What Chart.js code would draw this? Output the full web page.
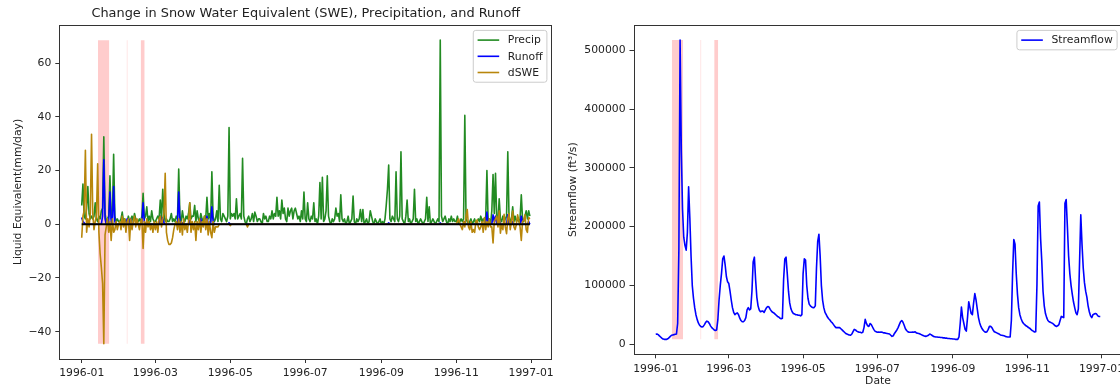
<!DOCTYPE html>
<html>
<head>
<meta charset="utf-8">
<script src="https://cdn.jsdelivr.net/npm/chart.js@4.4.0/dist/chart.umd.min.js"></script>
<style>
html, body { margin: 0; padding: 0; overflow: hidden; background: #fff; width: 1120px; height: 387px; }
#left { position: absolute; left: 0; top: 0; width: 560px; height: 387px; }
#right { position: absolute; left: 560px; top: 0; width: 580px; height: 387px; }
</style>
</head>
<body>
<div id="left"><canvas id="swe"></canvas></div>
<div id="right"><canvas id="flow"></canvas></div>
<script>
// day of 1996 (0 = 1996-01-01)
var days = Array.from({ length: 366 }, function (_, i) { return i; });

var xTickDays = [0, 60, 121, 182, 244, 305, 366];
var xTickLabels = ["1996-01", "1996-03", "1996-05", "1996-07", "1996-09", "1996-11", "1997-01"];

var sweTicks = [-40, -20, 0, 20, 40, 60];
var sweTickLabels = ["\u221240", "\u221220", "0", "20", "40", "60"];
var flowTicks = [0, 100000, 200000, 300000, 400000, 500000];
var flowTickLabels = ["0", "100000", "200000", "300000", "400000", "500000"];

// shaded periods (day of 1996)
var spanStart = [13.2, 36.5, 48.0];
var spanEnd = [22.5, 37.5, 51.3];

// mm/day
var precip = [
  7,15,3,2,6,14,4,2,3,2,3,8,2,1,3,2,5,6,32.5,4,1,2,3,18,2,3,26,3,1,2,1,
  1,2,4.5,1,2,1,1,3,1,2,3,1,4,2,1,1,2,1,3,11.5,2,3,6.5,1,3,1,5,2,1,
  1,2,3,2,9,2,13,4,1,2,1,1,2,4,1,2,1,3,2,20.5,3,1,5,2,1,3,2,4,8,2,3,
  3,7,1,5,2,1,4,2,1,3,2,10,2,4,1,19.5,3,1,2,5,1,14.5,2,1,4,3,2,1,3,36,
  2,4,3,4,2,9.5,2,3,4,2,24.5,3,1,0,2,3,1,2,4,1,4.5,3,1,2,2,1,0,4,2,3,1,
  1,3,2,5,2,4,3,10,3,5,2,9,4,6,2,1,6,3,5,6,2,5,6,4,2,3,1,5,2,12,
  2,1,8,2,1,3,2,8,1,2,0,3,15.5,2,17.5,1,2,5,18,3,1,0,2,1,2,6,3,4,1,11,2,
  1,2,0,1,3,0,1,2,10.5,1,0,2,1,2,5.5,1,5.5,0,1,2,0,1,5,3,1,0,2,1,0,1,2,
  0,1,0,2,7,13,22,2,1,3,2,1,19.5,2,1,3,27,2,1,0,3,9,1,2,0,1,2,13,1,2,
  0,1,2,1,0,1,2,10,1,6.5,0,1,2,1,0,1,2,1,68.5,3,1,2,3,1,0,2,1,3,1,2,1,
  1,3,0,1,2,1,2,40.5,2,1,0,1,2,0,1,2,0,1,2,1,3,1,2,1,2,20,1,2,0,5,
  18.5,4,19,2,1,9.5,2,1,3,1,2,3,27,3,1,2,6.5,1,3,1,2,1,2,11,2,1,3,5,2,5,3
];

var runoff = [
  2.5,1,0.5,0,0,0,0,0,0,0,0,0,0,0,0,0,0,3,24,2,0,0,1,12,1,0,14,1,0,0,0,
  0,0,0,0,0,0,2,1.5,0,2,0,0,0,0,0,0,0,0,0.5,8,1,0,0.5,0,0,0,0,0,0,
  0,0,0,0,3,0,2.5,0.5,0,0,0,0,0,0,0,0,0,0,0.5,12,1,0,0.5,0,0,0,0,0,1.5,0,0,
  0,0,0,0,0,0,2,0,0,0,0,3,0,0,0,6.5,1,0,0,0,0,0,0,0,0,0,0,0,0,0.5,
  0,0,0,0,0,0,0,0,0,0,0,0,0,0,0,0,0,0,0,0,0,0,0,0,0,0,0,0,0,0,0,
  0,0,0,0,0,0,0,0,0,0,0,0,0,0,0,0,0,0,0,0,0,0,0,0,0,0,0,0,0,0,
  0,0,0,0,0,0,0,0,0,0,0,0,0,0,0,0,0,0,0,0,0,0,0,0,0,0,0,0,0,0,0,
  0,0,0,0,0,0,0,0,0,0,0,0,0,0,0,0,0,0,0,0,0,0,0,0,0,0,0,0,0,0,0,
  0,0,0,0,0,0,0.5,0,0,0,0,0,0,0,0,0,0,0,0,0,0,0,0,0,0,0,0,0,0,0,
  0,0,0,0,0,0,0,0,0,0,0,0,0,0,0,0,0,0,0.5,0,0,0,0,0,0,0,0,0,0,0,0,
  0,0,0,0,0,0,0,1,0,0,0,0,0,0,0,0,0,0,0,0,0,0,0,0,0,4.5,0,0,0,0,
  3.5,1,3,0,0,2,0,0,0,0,0,0,3.5,0,0,0,1,0,0,0,0,0,0,3,0,0,0,0,0,1,0
];

var dswe = [
  -5,3,5,27.5,-3,2,-1,4,33.5,4,-2,1,3,22.5,-3,-11,-16,-22,-44.5,-4,-1,2,-3,1,-6,2,-3,-2,1,-2,0,
  1,-2,3,-1,2,-3,1,2,-6,2,-2,1,3,-1,2,0,-2,1,2,-9,1,-3,2,-1,1,-2,0,-3,1,
  -2,1,-3,2,3,-1,2,4,19,-3,-6,-7.5,-7.5,-7,-5,-2,0,1,-2,2,-3,1,-4,2,-2,0,-3,1,8,-3,1,
  -2,1,-6,1,-2,2,-3,1,-1,3,-2,2,-4,1,-3,-5,1,-3,-1,-1,-1,0,0,0,0,0,0,0,0,0,
  -0.5,0,0,0,0,0,0,0,0,0,0,0,0,0,-1,0,0,0,0,0,0,0,0,0,0,0,0,0,0,0,0,
  0,0,0,0,0,0,0,0,0,0,0,0,0,0,0,0,0,0,0,0,0,0,0,0,0,0,0,0,0,0,
  0,0,0,0,0,0,0,0,0,0,0,0,0,0,0,0,0,0,0,0,0,0,0,0,0,0,0,0,0,0,0,
  0,0,0,0,0,0,0,0,0,0,0,0,0,0,0,0,0,0,0,0,0,0,0,0,0,0,0,0,0,0,0,
  0,0,0,0,0,0,0,0,0,0,0,0,0,0,0,0,0,0,0,0,0,0,0,0,0,0,0,0,0,0,
  0,0,0,0,0,0,0,0,0,0,0,0,0,0,0,0,0,0,0,0,0,0,0,0,0,0,0,0,0,0,0,
  0,1,2,0,-1,-2,1,-1,3,5.5,-1,-2,1,-3,-2,-3,1,1.6,-1,-2,-1,1,-3,2.5,-2,1,-1,2,-1,-1,
  -7,1,2,3,-1,5,-3.3,0,-2,3.7,-1,-3.5,2,4,-2,1,4.9,-1,-2,0,3.5,1.5,-1,-6,1,1.5,3.5,-2,-3,2.5,2
];

// ft3/s
var streamflow = [
  16500,17000,16000,14000,12000,10000,8500,8000,8000,8000,9000,11000,13000,15000,15500,16000,16500,17000,35000,160000,518000,330000,230000,182000,168000,160000,190000,268000,215000,150000,100000,
  78000,62000,50000,42000,36000,32000,30000,29000,30000,33000,37000,39000,38000,35000,31000,28000,26000,24000,23000,24000,41000,75000,100000,120000,145000,150000,135000,115000,106000,
  103000,90000,75000,62000,54000,50000,52000,53000,50000,44000,40000,38000,38000,40000,45000,58000,62000,58000,60000,90000,140000,148000,110000,80000,65000,58000,55000,56000,56000,54000,58000,
  62000,64000,63000,59000,56000,54000,53000,51000,49000,47000,46000,44000,43000,44000,110000,145000,148000,120000,90000,70000,60000,55000,52000,51000,50000,50000,49000,49000,48000,50000,
  120000,145000,143000,100000,78000,68000,65000,63000,62000,62000,65000,130000,175000,187000,150000,100000,75000,62000,54000,50000,46000,43000,41000,38000,36000,33000,30000,28000,28000,28000,28000,
  26000,24000,22000,20000,18000,17000,16000,15500,15000,17000,21000,25000,24000,22000,21000,20000,20000,19000,20000,28000,42000,35000,31000,30000,35000,33000,29000,25000,22000,21000,
  20000,20500,20000,20500,20000,19000,19000,18500,18000,17500,17000,15000,13000,14000,18000,21000,24000,28000,33000,38000,40000,37000,32000,26000,23000,21000,20000,20000,20000,20500,20000,
  21000,19000,18500,18000,17000,16000,15000,14000,13500,13000,14000,15000,17000,16000,14500,13000,12500,12000,12000,11500,11500,11000,11000,10500,10500,10000,10000,9500,9500,9000,9000,
  8500,8500,8000,8000,8000,12000,35000,63000,45000,35000,25000,22000,45000,72000,62000,52000,50000,70000,86000,75000,60000,45000,36000,30000,26000,23000,21000,20000,21000,25000,
  30000,30000,28000,24000,21000,20000,19000,18000,17000,15500,15000,14500,14000,13000,12500,12000,12000,12000,40000,120000,178000,170000,120000,85000,62000,50000,43000,38000,35000,33000,31000,
  30000,28000,27000,25000,23000,22000,20500,21000,100000,235000,242000,180000,140000,90000,65000,52000,45000,40000,38000,37000,36000,35000,33000,31000,30000,31000,33000,40000,47000,46000,
  45000,240000,246000,200000,150000,120000,100000,85000,72000,62000,53000,50000,60000,140000,220000,170000,130000,105000,90000,80000,65000,55000,48000,45000,50000,51000,52000,51000,48000,47000,47000
];

var FONT = '"DejaVu Sans"';
var FS = 10.8;
var TXT = '#222';
var spanColors = ['rgba(255,0,0,0.2)', 'rgba(255,0,0,0.12)', 'rgba(255,0,0,0.2)'];

Chart.defaults.font.family = FONT;
Chart.defaults.font.size = FS;
Chart.defaults.color = TXT;
Chart.defaults.elements.point.radius = 0;
Chart.defaults.elements.line.tension = 0;
Chart.defaults.elements.line.borderJoinStyle = 'round';

var first = days[0], last = days[days.length - 1];
var xMin = first - 0.05 * (last - first), xMax = last + 0.05 * (last - first);

// axes box like matplotlib
var frame = {
  id: 'frame',
  afterDatasetsDraw: function (chart) {
    var a = chart.chartArea, ctx = chart.ctx;
    ctx.save();
    ctx.strokeStyle = '#333';
    ctx.lineWidth = 1;
    ctx.strokeRect(Math.round(a.left) + 0.5, Math.round(a.top) + 0.5, Math.round(a.right - a.left) - 1, Math.round(a.bottom - a.top));
    ctx.restore();
  }
};

// legend inside the axes, upper right
var boxLegend = {
  id: 'boxLegend',
  afterDraw: function (chart) {
    var items = chart.data.datasets.filter(function (d) { return d.label; });
    var a = chart.chartArea, ctx = chart.ctx;
    var pad = 0.4 * FS, handle = 2 * FS, gap = 0.8 * FS, row = 0.5 * FS, edge = 0.5 * FS;
    ctx.save();
    ctx.font = FS + 'px ' + FONT;
    var tw = Math.max.apply(null, items.map(function (d) { return ctx.measureText(d.label).width; }));
    var w = pad * 2 + handle + gap + tw;
    var h = pad * 2 + items.length * FS + (items.length - 1) * row;
    var x = a.right - edge - w, y = a.top + edge;
    ctx.beginPath();
    ctx.roundRect(x, y, w, h, 2.5);
    ctx.fillStyle = 'rgba(255,255,255,0.8)';
    ctx.fill();
    ctx.strokeStyle = '#cccccc';
    ctx.lineWidth = 1;
    ctx.stroke();
    items.forEach(function (d, i) {
      var cy = y + pad + FS / 2 + i * (FS + row);
      ctx.beginPath();
      ctx.moveTo(x + pad, cy);
      ctx.lineTo(x + pad + handle, cy);
      ctx.strokeStyle = d.borderColor;
      ctx.lineWidth = d.borderWidth;
      ctx.stroke();
      ctx.fillStyle = TXT;
      ctx.textBaseline = 'middle';
      ctx.fillText(d.label, x + pad + handle + gap, cy + 0.5);
    });
    ctx.restore();
  }
};

function xAxis(height, title) {
  return {
    type: 'linear',
    min: xMin,
    max: xMax,
    afterBuildTicks: function (s) { s.ticks = xTickDays.map(function (v) { return { value: v }; }); },
    afterFit: function (s) { s.height = height; },
    ticks: { autoSkip: false, maxRotation: 0, padding: 4, callback: function (v, i) { return xTickLabels[i]; } },
    grid: { drawOnChartArea: false, tickLength: 4, tickColor: '#333', color: '#333' },
    border: { display: false },
    title: title
  };
}

function yAxis(width, ticks, labels, lo, hi, title, titlePad) {
  return {
    type: 'linear',
    min: lo,
    max: hi,
    afterBuildTicks: function (s) { s.ticks = ticks.map(function (v) { return { value: v }; }); },
    afterFit: function (s) { s.width = width; },
    ticks: { padding: 4, callback: function (v, i) { return labels[i]; } },
    grid: { drawOnChartArea: false, tickLength: 4, tickColor: '#333', color: '#333' },
    border: { display: false },
    title: { display: true, text: title, color: TXT, font: { size: FS, lineHeight: 1.2 }, padding: { top: titlePad, bottom: 0 } }
  };
}

function spanSets(lo, hi) {
  return spanStart.map(function (s, i) {
    return {
      data: [{ x: s, y: hi }, { x: spanEnd[i], y: hi }],
      fill: { value: lo },
      backgroundColor: spanColors[i],
      borderWidth: 0,
      order: 10
    };
  });
}

// left: SWE, precipitation and runoff
var allLeft = precip.concat(runoff, dswe);
var lMin = Math.min.apply(null, allLeft), lMax = Math.max.apply(null, allLeft);
var lPad = 0.05 * (lMax - lMin);

new Chart('swe', {
  type: 'line',
  data: {
    labels: days,
    datasets: [
      { label: 'Precip', data: precip, borderColor: 'forestgreen', borderWidth: 1.6, order: 4 },
      { label: 'Runoff', data: runoff, borderColor: 'blue', borderWidth: 1.6, order: 3 },
      { label: 'dSWE', data: dswe, borderColor: 'darkgoldenrod', borderWidth: 1.6, order: 2 },
      { data: [{ x: first, y: 0 }, { x: last, y: 0 }], borderColor: 'black', borderWidth: 2, order: 1 }
    ].concat(spanSets(lMin, lMax))
  },
  options: {
    responsive: true,
    maintainAspectRatio: false,
    animation: false,
    events: [],
    layout: { padding: { left: 0, right: 7.7, top: 0, bottom: 0 } },
    plugins: {
      legend: { display: false },
      tooltip: { enabled: false },
      title: {
        display: true,
        fullSize: false,
        text: 'Change in Snow Water Equivalent (SWE), Precipitation, and Runoff',
        color: TXT,
        font: { size: 12.9, weight: 'normal', lineHeight: 1.2 },
        padding: { top: 6.3, bottom: 3.2 }
      }
    },
    scales: {
      x: xAxis(28, { display: false }),
      y: yAxis(59.3, sweTicks, sweTickLabels, lMin - lPad, lMax + lPad, 'Liquid Equivalent(mm/day)', 11.5)
    }
  },
  plugins: [frame, boxLegend]
});

// right: streamflow
var fMin = Math.min.apply(null, streamflow), fMax = Math.max.apply(null, streamflow);
var fPad = 0.05 * (fMax - fMin);

new Chart('flow', {
  type: 'line',
  data: {
    labels: days,
    datasets: [
      { label: 'Streamflow', data: streamflow, borderColor: 'blue', borderWidth: 1.6, order: 1 }
    ].concat(spanSets(fMin, fMax))
  },
  options: {
    responsive: true,
    maintainAspectRatio: false,
    animation: false,
    events: [],
    layout: { padding: { left: 0, right: 17.5, top: 25, bottom: 0 } },
    plugins: { legend: { display: false }, tooltip: { enabled: false } },
    scales: {
      x: xAxis(32.7, { display: true, text: 'Date', color: TXT, font: { size: FS, lineHeight: 1 }, padding: { top: 0, bottom: 0 } }),
      y: yAxis(73.5, flowTicks, flowTickLabels, fMin - fPad, fMax + fPad, 'Streamflow (ft\u00b3/s)', 7)
    }
  },
  plugins: [frame, boxLegend]
});
</script>
</body>
</html>
